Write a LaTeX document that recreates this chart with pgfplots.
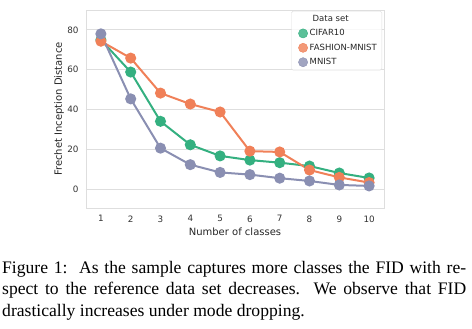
\documentclass[border=0pt]{standalone}
\usepackage{fontspec}
\setmainfont{Liberation Serif}
\newfontfamily\dejavu{DejaVu Sans}
\usepackage{pgfplots}
\pgfplotsset{compat=1.18}
\definecolor{cgreen}{RGB}{52,176,128}
\definecolor{corange}{RGB}{240,128,88}
\definecolor{cpurple}{RGB}{138,143,178}
\definecolor{gridc}{RGB}{222,222,222}
\begin{document}
\begin{tikzpicture}
\useasboundingbox (0pt,0pt) rectangle (472pt,-329pt);
\begin{axis}[
  at={(86pt,-208pt)}, anchor=south west,
  scale only axis, width=298pt, height=198pt,
  xmin=0.5, xmax=10.5, ymin=-9.6, ymax=90,
  xtick={1,2,3,4,5,6,7,8,9,10}, ytick={0,20,40,60,80},
  /pgf/number format/assume math mode=true,
  major tick length=0pt,
  ymajorgrids, grid style={gridc, line width=0.8pt},
  axis line style={gridc, line width=0.8pt},
  tick label style={font=\dejavu\fontsize{8.8}{10}\selectfont, text=black!80},
  xticklabel style={yshift=-4pt},
  yticklabel style={xshift=-4pt},
  label style={font=\dejavu\fontsize{10}{12}\selectfont, text=black!85},
  xlabel={Number of classes}, ylabel={Frechet Inception Distance},
  xlabel style={at={(axis description cs:0.5,-0.1212)}, anchor=center},
  ylabel style={at={(axis description cs:-0.0906,0.5)}, anchor=center},
  legend style={at={(rel axis cs:1,1)}, anchor=north east, xshift=-2pt, yshift=-1pt,
    draw=gridc, fill=white, fill opacity=0.8, text opacity=1, rounded corners=1.5pt,
    font=\dejavu\fontsize{8.5}{9.5}\selectfont, text=black!85, row sep=2.6pt},
  legend cell align=left,
]
\addlegendimage{empty legend}
\addlegendentry{\hspace{3pt}Data set}
\addlegendimage{only marks, mark=*, mark size=4.6pt, cgreen}
\addlegendentry{CIFAR10}
\addlegendimage{only marks, mark=*, mark size=4.6pt, corange}
\addlegendentry{FASHION-MNIST}
\addlegendimage{only marks, mark=*, mark size=4.6pt, cpurple}
\addlegendentry{MNIST}

\addplot[forget plot, cgreen, line width=2pt, mark=*, mark size=4.5pt, mark options={fill=cgreen, draw=cgreen}]
 coordinates {(1,75) (2,58.8) (3,34) (4,22.2) (5,16.6) (6,14.5) (7,13.2) (8,11.5) (9,8) (10,5.5)};
\addplot[forget plot, corange, line width=2pt, mark=*, mark size=4.5pt, mark options={fill=corange, draw=corange}]
 coordinates {(1,74.3) (2,65.8) (3,48.2) (4,42.7) (5,38.7) (6,19) (7,18.6) (8,9.5) (9,5.8) (10,3.2)};
\addplot[forget plot, cpurple, line width=2pt, mark=*, mark size=4.5pt, mark options={fill=cpurple, draw=cpurple}]
 coordinates {(1,78) (2,45.3) (3,20.5) (4,12.2) (5,8.3) (6,7.2) (7,5.4) (8,4) (9,2) (10,1.5)};
\end{axis}
\node[anchor=base west, inner sep=0pt, text width=464pt, align=justify,
  font=\fontsize{17.6}{21.5}\selectfont] at (2pt,-273pt)
  {\hyphenpenalty=10000 Figure 1:\ \ As the sample captures more classes the FID with re-\linebreak spect to the reference data set decreases.\ \ We observe that FID\linebreak drastically increases under mode dropping.};
\end{tikzpicture}
\end{document}
